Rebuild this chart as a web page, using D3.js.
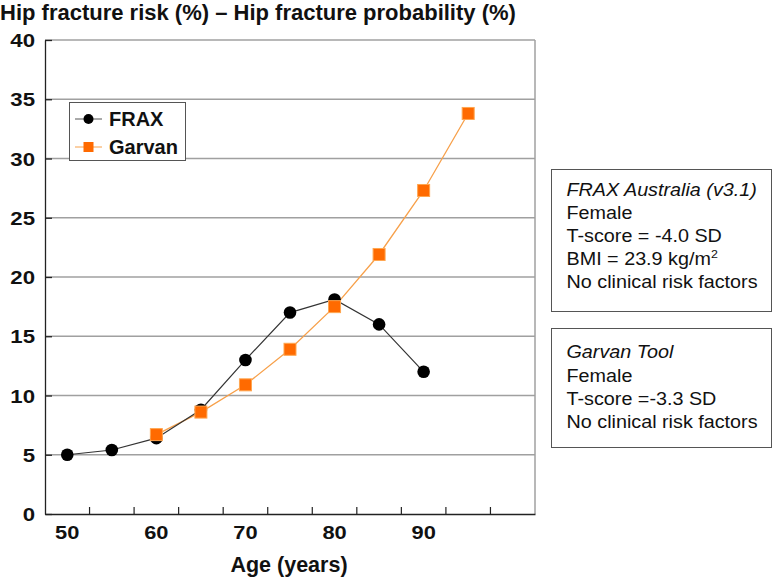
<!DOCTYPE html>
<html><head><meta charset="utf-8">
<script src="https://cdn.jsdelivr.net/npm/d3@7"></script>
<style>body{margin:0;background:#fff}svg{display:block}text{font-family:"Liberation Sans",Arial,sans-serif}</style>
</head><body>
<script>
const categories = ["50","55","60","65","70","75","80","85","90","95","100"];
const tickLabels = ["50","","60","","70","","80","","90","",""];
const fraxAges = ["50","55","60","65","70","75","80","85","90"];
const fraxValues = [5.0, 5.4, 6.4, 8.8, 13.0, 17.0, 18.1, 16.0, 12.0];
const garvanAges = ["60","65","70","75","80","85","90","95"];
const garvanValues = [6.7, 8.6, 10.9, 13.9, 17.5, 21.9, 27.3, 33.8];
const yTicks = [0,5,10,15,20,25,30,35,40];
const box1 = [{t:"FRAX Australia (v3.1)",i:true},{t:"Female"},{t:"T-score = -4.0 SD"},{t:"BMI = 23.9 kg/m",sup:"2"},{t:"No clinical risk factors"}];
const box2 = [{t:"Garvan Tool",i:true},{t:"Female"},{t:"T-score =-3.3 SD"},{t:"No clinical risk factors"}];

const W=776,H=578, L=45, R=535, T=40, B=514;
const svg=d3.select("body").append("svg").attr("width",W).attr("height",H);
const x=d3.scaleBand().domain(categories).range([L,R]);
const y=d3.scaleLinear().domain([0,40]).range([B,T]);
const cx=a=>x(a)+x.bandwidth()/2;

svg.append("text").attr("x",0).attr("y",20).attr("font-size",22).attr("font-weight","bold").attr("fill","#111")
  .text("Hip fracture risk (%) – Hip fracture probability (%)");

// gridlines
svg.append("g").selectAll("line").data(yTicks.filter(d=>d>0)).join("line")
  .attr("x1",L).attr("x2",R).attr("y1",d=>y(d)).attr("y2",d=>y(d))
  .attr("stroke","#a0a0a0").attr("stroke-width",1.3);
svg.append("line").attr("x1",R).attr("x2",R).attr("y1",T).attr("y2",B).attr("stroke","#a0a0a0").attr("stroke-width",1.5);

// y axis
const sy=1.2;
const ya=svg.append("g").attr("transform",`translate(${L},0)`)
  .call(d3.axisLeft(y).tickValues(yTicks).tickSizeInner(-7).tickSizeOuter(0));
ya.select(".domain").attr("stroke","#222").attr("stroke-width",1.3);
ya.selectAll(".tick line").attr("stroke","#222").attr("stroke-width",1.3);
ya.selectAll("text").attr("font-size",18.5).attr("font-weight","bold").attr("fill","#111")
  .attr("font-family","Liberation Sans, Arial, sans-serif")
  .attr("transform",`scale(${sy},1)`).attr("x",-10/sy).attr("dy","0.36em");

// x axis
const sx=1.15;
const xa=svg.append("g").attr("transform",`translate(0,${B})`)
  .call(d3.axisBottom(x).tickSize(0).tickFormat((d,i)=>tickLabels[i]));
xa.select(".domain").attr("stroke","#222").attr("stroke-width",1.3);
xa.selectAll("text").attr("font-size",19).attr("font-weight","bold").attr("fill","#111")
  .attr("font-family","Liberation Sans, Arial, sans-serif")
  .attr("transform",`scale(${sx},1)`).attr("y",25).attr("dy",0);
svg.append("g").selectAll("line").data(categories.slice(1)).join("line")
  .attr("x1",d=>x(d)).attr("x2",d=>x(d)).attr("y1",B).attr("y2",B-7)
  .attr("stroke","#222").attr("stroke-width",1.2);

svg.append("text").attr("x",289).attr("y",572).attr("text-anchor","middle").attr("font-size",21.5)
  .attr("font-weight","bold").attr("fill","#111").text("Age (years)");

// lines
const fr=fraxAges.map((a,i)=>({a,v:fraxValues[i]}));
const ga=garvanAges.map((a,i)=>({a,v:garvanValues[i]}));
const line=d3.line().x(d=>cx(d.a)).y(d=>y(d.v));
svg.append("path").datum(ga).attr("d",line).attr("fill","none").attr("stroke","#f7a04a").attr("stroke-width",1.3);
svg.append("path").datum(fr).attr("d",line).attr("fill","none").attr("stroke","#333").attr("stroke-width",1.2);
svg.append("g").selectAll("circle").data(fr).join("circle")
  .attr("cx",d=>cx(d.a)).attr("cy",d=>y(d.v)).attr("r",6.3).attr("fill","#000");
svg.append("g").selectAll("rect").data(ga).join("rect")
  .attr("x",d=>cx(d.a)-6).attr("y",d=>y(d.v)-6).attr("width",12).attr("height",12)
  .attr("fill","#ff6a00").attr("stroke","#ffa650").attr("stroke-width",1);

// legend
const lg=svg.append("g");
lg.append("rect").attr("x",69.5).attr("y",102.5).attr("width",116).attr("height",58)
  .attr("fill","#fff").attr("stroke","#555").attr("stroke-width",1);
lg.append("line").attr("x1",75).attr("x2",102).attr("y1",119).attr("y2",119).attr("stroke","#555");
lg.append("circle").attr("cx",88.5).attr("cy",119).attr("r",5).attr("fill","#000");
lg.append("text").attr("x",109).attr("y",126).attr("font-size",20).attr("font-weight","bold").attr("fill","#111").text("FRAX");
lg.append("line").attr("x1",75).attr("x2",102).attr("y1",147).attr("y2",147).attr("stroke","#f7a04a");
lg.append("rect").attr("x",83.5).attr("y",142).attr("width",10).attr("height",10).attr("fill","#ff6a00");
lg.append("text").attr("x",109).attr("y",154).attr("font-size",20).attr("font-weight","bold").attr("fill","#111").text("Garvan");

function box(lines,x0,y0,w,h,b0,step){
  const g=svg.append("g");
  g.append("rect").attr("x",x0).attr("y",y0).attr("width",w).attr("height",h)
    .attr("fill","#fff").attr("stroke","#555").attr("stroke-width",1);
  lines.forEach((l,i)=>{
    const t=g.append("text").attr("transform",`translate(${x0+15},${b0+i*step}) scale(1.13,1)`)
      .attr("font-size",17.5).attr("fill","#111")
      .attr("font-family","Liberation Sans, Arial, sans-serif").attr("font-style",l.i?"italic":"normal");
    t.append("tspan").text(l.t);
    if(l.sup) t.append("tspan").attr("font-size",11).attr("dy",-7).text(l.sup);
  });
}
box(box1,551.5,169.5,220,142,196,23);
box(box2,551.5,328.5,220,119,358.3,23.3);
</script>
</body></html>
